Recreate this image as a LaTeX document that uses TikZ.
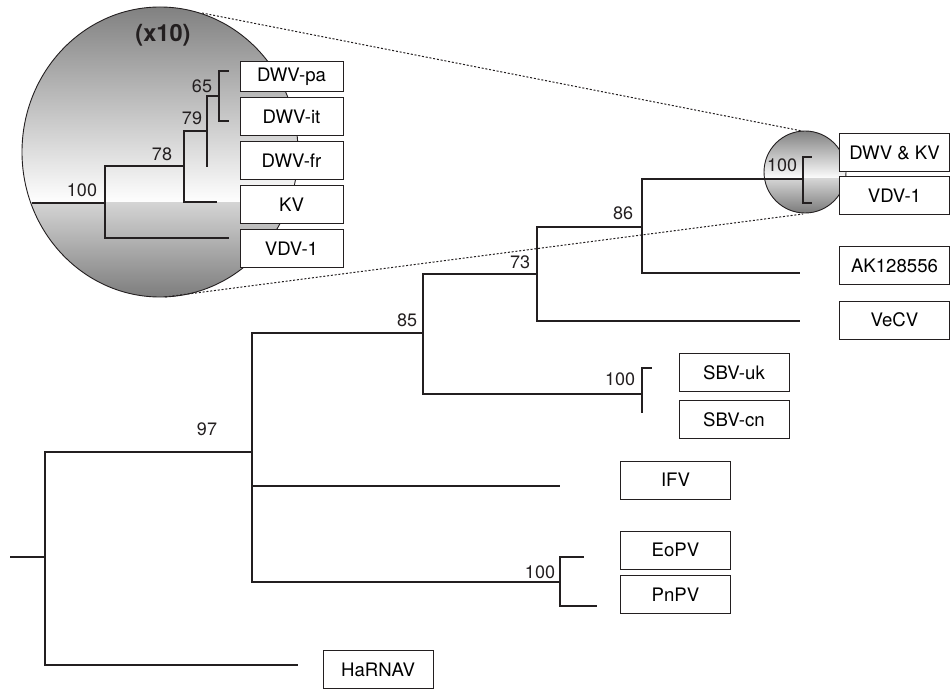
\documentclass[tikz,border=0pt]{standalone}
\usepackage{fontspec}
\setmainfont{TeX Gyre Heros}
\usepackage{tikz}
\usetikzlibrary{calc}
\definecolor{PH_INK}{HTML}{231f20}
\tikzset{
  taxon/.style={
    rectangle, draw=PH_INK, line width=0.5pt, fill=white,
    minimum width=55pt, minimum height=19pt, inner sep=0pt,
    text centered, font=\fontsize{9.3}{11}\selectfont},
  boot/.style={inner sep=0pt, text=PH_INK, font=\fontsize{9}{11}\selectfont},
  branch/.style={line width=0.9pt, draw=PH_INK},
  rim/.style={line width=0.45pt, draw=PH_INK},
  zoomline/.style={line width=0.5pt, draw=PH_INK, dash pattern=on 1pt off 0.9pt},
}

\begin{document}
\begin{tikzpicture}[x=0.5pt, y=-0.5pt]
  \useasboundingbox (0,0) rectangle (951,689);

  % magnified part (x10)
  \begin{scope}
    \clip (160,152) ellipse [x radius=69pt, y radius=72.5pt];
    \shade[top color=black!50, bottom color=white] (20,5) rectangle (300,203);
    \shade[top color=black!17, bottom color=black!52] (20,203) rectangle (300,300);
  \end{scope}
  \draw[rim] (160,152) ellipse [x radius=69pt, y radius=72.5pt];

  % small circle on the main tree
  \begin{scope}
    \clip (805,172) circle [radius=20.5pt];
    \shade[top color=black!52, bottom color=white] (760,128) rectangle (850,179);
    \shade[top color=black!17, bottom color=black!55] (760,179) rectangle (850,216);
  \end{scope}
  \draw[rim] (805,172) circle [radius=20.5pt];

  % zoom guides
  \coordinate (bigtop)   at (202,13);
  \coordinate (bigbot)   at (165,297);
  \coordinate (smalltop) at (802,131);
  \coordinate (smallbot) at (803,214);
  \draw[zoomline] (bigtop) -- (smalltop);
  \draw[zoomline] (bigbot) -- (smallbot);

  % main tree: internal nodes and tips
  \coordinate (stub)  at (10,557);
  \coordinate (root)  at (45,557);
  \coordinate (n97)   at (252,452);
  \coordinate (n85)   at (423,333);
  \coordinate (n73)   at (537,274);
  \coordinate (n86)   at (642,227);
  \coordinate (nDK)   at (803,179);
  \coordinate (nSBV)  at (642,394);
  \coordinate (nPV)   at (560,582);
  \coordinate (tHa)   at (298,665);
  \coordinate (tIFV)  at (560,486);
  \coordinate (tVeCV) at (800,321);
  \coordinate (tAK)   at (800,273);
  \coordinate (tDK)   at (812,157);
  \coordinate (tVDV)  at (812,203);
  \coordinate (tSBVa) at (652,368);
  \coordinate (tSBVb) at (642,413);
  \coordinate (tEo)   at (584,557);
  \coordinate (tPn)   at (597,606);

  \draw[branch] (stub) -- (root);
  \draw[branch] (root) |- (n97);
  \draw[branch] (root) |- (tHa);
  \draw[branch] (n97)  |- (n85);
  \draw[branch] (n97)  |- (tIFV);
  \draw[branch] (n97)  |- (nPV);
  \draw[branch] (n85)  |- (n73);
  \draw[branch] (n85)  |- (nSBV);
  \draw[branch] (n73)  |- (n86);
  \draw[branch] (n73)  |- (tVeCV);
  \draw[branch] (n86)  |- (nDK);
  \draw[branch] (n86)  |- (tAK);
  \draw[branch] (nDK)  |- (tDK);
  \draw[branch] (nDK)  |- (tVDV);
  \draw[branch] (nSBV) |- (tSBVa);
  \draw[branch] (nSBV) -- (tSBVb);
  \draw[branch] (nPV)  |- (tEo);
  \draw[branch] (nPV)  |- (tPn);

  % magnified tree
  \coordinate (zstub) at (32,203);
  \coordinate (z100)  at (105,203);
  \coordinate (z78)   at (184,166);
  \coordinate (z79)   at (207,131);
  \coordinate (z65)   at (219,96);
  \coordinate (zVDV)  at (229,238);
  \coordinate (zKV)   at (217,202);
  \coordinate (zfr)   at (207,167);
  \coordinate (zpa)   at (229,71);
  \coordinate (zit)   at (229,121);

  \draw[branch, line width=0.55pt] (zstub) -- (z100);
  \draw[branch] (z100) |- (z78);
  \draw[branch] (z100) |- (zVDV);
  \draw[branch] (z78)  |- (z79);
  \draw[branch] (z78)  |- (zKV);
  \draw[branch] (z79)  |- (z65);
  \draw[branch] (z79)  -- (zfr);
  \draw[branch] (z65)  |- (zpa);
  \draw[branch] (z65)  |- (zit);

  % bootstrap values
  \node[boot] (b65)  at (202,86)  {65};
  \node[boot] (b79)  at (192,118) {79};
  \node[boot] (b78)  at (162,154) {78};
  \node[boot] (b100z) at (82,190) {100};
  \node[boot] (b86)  at (623,213) {86};
  \node[boot] (b73)  at (520,262) {73};
  \node[boot] (b85)  at (407,320) {85};
  \node[boot] (b97)  at (207,429) {97};
  \node[boot] (b100d) at (782,165) {100};
  \node[boot] (b100s) at (620,379) {100};
  \node[boot] (b100p) at (540,572) {100};
  \node[font=\fontsize{11.8}{14}\selectfont\bfseries, text=PH_INK] (mag) at (163,35) {(x10)};

  % taxa, magnified part
  \node[taxon, minimum width=51.5pt, minimum height=15pt] (DWVpa) at (291.5,77) {DWV-pa};
  \node[taxon, minimum width=51.5pt] (DWVit) at (291.5,116.5) {DWV-it};
  \node[taxon, minimum width=51.5pt] (DWVfr) at (291.5,161) {DWV-fr};
  \node[taxon, minimum width=51.5pt] (KV)    at (291.5,205) {KV};
  \node[taxon, minimum width=51.5pt] (VDVz)  at (291.5,249) {VDV-1};

  % taxa, main tree
  \node[taxon] (DWVKV)  at (894.5,152.5) {DWV \& KV};
  \node[taxon] (VDV)    at (894.5,195.5) {VDV-1};
  \node[taxon] (AK)     at (894.5,265.5) {AK128556};
  \node[taxon] (VeCV)   at (894.5,320)   {VeCV};
  \node[taxon] (SBVuk)  at (734,372.5)   {SBV-uk};
  \node[taxon] (SBVcn)  at (734,419.5)   {SBV-cn};
  \node[taxon] (IFV)    at (675.5,480)   {IFV};
  \node[taxon] (EoPV)   at (675.5,550)   {EoPV};
  \node[taxon] (PnPV)   at (675.5,594.5) {PnPV};
  \node[taxon] (HaRNAV) at (378,669.5)   {HaRNAV};

\end{tikzpicture}
\end{document}
